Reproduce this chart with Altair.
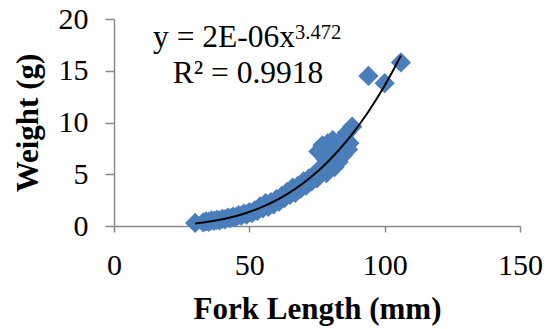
import altair as alt
import pandas as pd

# Fork length (mm) and weight (g) of each measured fish
fork_length = [30, 33, 34, 35, 36, 37, 38, 39, 40, 41, 42, 43, 44, 45, 46, 47, 48, 49,
               50, 51, 52, 53, 54, 55, 56, 57, 58, 59, 60, 61, 62, 63, 64, 65, 66, 67,
               68, 69, 70, 71, 72, 73, 74, 75, 75.5, 76, 77, 77.5, 78, 78.5, 79, 80,
               80.8, 81.5, 82, 83, 84, 85, 84.5, 86, 87, 88, 86.5, 94, 100, 106]
weight = [0.30, 0.35, 0.45, 0.40, 0.55, 0.50, 0.60, 0.55, 0.70, 0.65, 0.80, 0.75, 0.90,
          0.85, 1.05, 1.00, 1.20, 1.10, 1.35, 1.25, 1.50, 1.45, 1.90, 1.70, 2.20, 1.85,
          2.30, 2.10, 2.60, 2.35, 2.90, 2.70, 3.30, 3.00, 3.70, 3.20, 3.90, 3.60, 4.30,
          3.90, 4.60, 4.30, 5.00, 4.60, 7.20, 5.40, 7.80, 5.90, 6.50, 5.10, 8.00, 6.70,
          8.30, 5.70, 7.20, 6.20, 7.60, 8.60, 6.80, 9.00, 8.00, 9.60, 7.40, 14.50, 13.80,
          15.80]

x_ticks = [0, 50, 100, 150]
y_ticks = [0, 5, 10, 15, 20]

equation = "y = 2E-06x"
exponent = "3.472"
r_squared = "R² = 0.9918"

FONT = "Liberation Serif"
GREY = "#8a8a8a"
BLUE = "#4A7EBB"

df = pd.DataFrame({"fork_length": fork_length, "weight": weight})

x_enc = alt.X(
    "fork_length:Q",
    scale=alt.Scale(domain=[0, 150], nice=False),
    axis=alt.Axis(
        values=x_ticks, title="Fork Length (mm)", grid=False, labelFlush=False,
        tickSize=6, labelPadding=18, labelFontSize=30,
        titleFontSize=31, titleFontWeight="bold",
        titleBaseline="alphabetic", titleY=92,
    ),
)
y_enc = alt.Y(
    "weight:Q",
    scale=alt.Scale(domain=[0, 20], nice=False),
    axis=alt.Axis(
        values=y_ticks, title="Weight (g)", grid=False, labelFlush=False,
        tickSize=9, labelPadding=17, labelFontSize=30,
        titleFontSize=31, titleFontWeight="bold",
        titleAngle=270, titleBaseline="alphabetic", titleX=-77, titleY=103.5,
    ),
)

points = alt.Chart(df).mark_point(
    shape="diamond", filled=True, size=410, color=BLUE, opacity=1
).encode(x=x_enc, y=y_enc)

# Power-law trendline fitted to the measurements
trend = alt.Chart(df).transform_regression(
    "fork_length", "weight", method="pow"
).mark_line(color="black", strokeWidth=2).encode(
    x=alt.X("fork_length:Q"), y=alt.Y("weight:Q")
)

one_row = pd.DataFrame({"k": [0]})

eq_main = alt.Chart(one_row).mark_text(
    text=equation, font=FONT, fontSize=31.5, align="right", baseline="alphabetic", color="black"
).encode(x=alt.value(181), y=alt.value(28))

eq_exp = alt.Chart(one_row).mark_text(
    text=exponent, font=FONT, fontSize=20.5, align="left", baseline="alphabetic", color="black"
).encode(x=alt.value(181), y=alt.value(20))

eq_r2 = alt.Chart(one_row).mark_text(
    text=r_squared, font=FONT, fontSize=31.5, align="center", baseline="alphabetic", color="black"
).encode(x=alt.value(134), y=alt.value(64))

chart = alt.layer(points, trend, eq_main, eq_exp, eq_r2).properties(
    width=406, height=207,
    autosize=alt.AutoSizeParams(type="none"),
    padding={"left": 114, "top": 19, "right": 30, "bottom": 103},
    background="white",
).configure_view(stroke=None).configure_axis(
    domainColor=GREY, tickColor=GREY, domainWidth=1.5, tickWidth=1.5,
    labelFont=FONT, titleFont=FONT, labelColor="black", titleColor="black",
)

chart.save("out.html", embed_options={"renderer": "svg", "actions": False})
